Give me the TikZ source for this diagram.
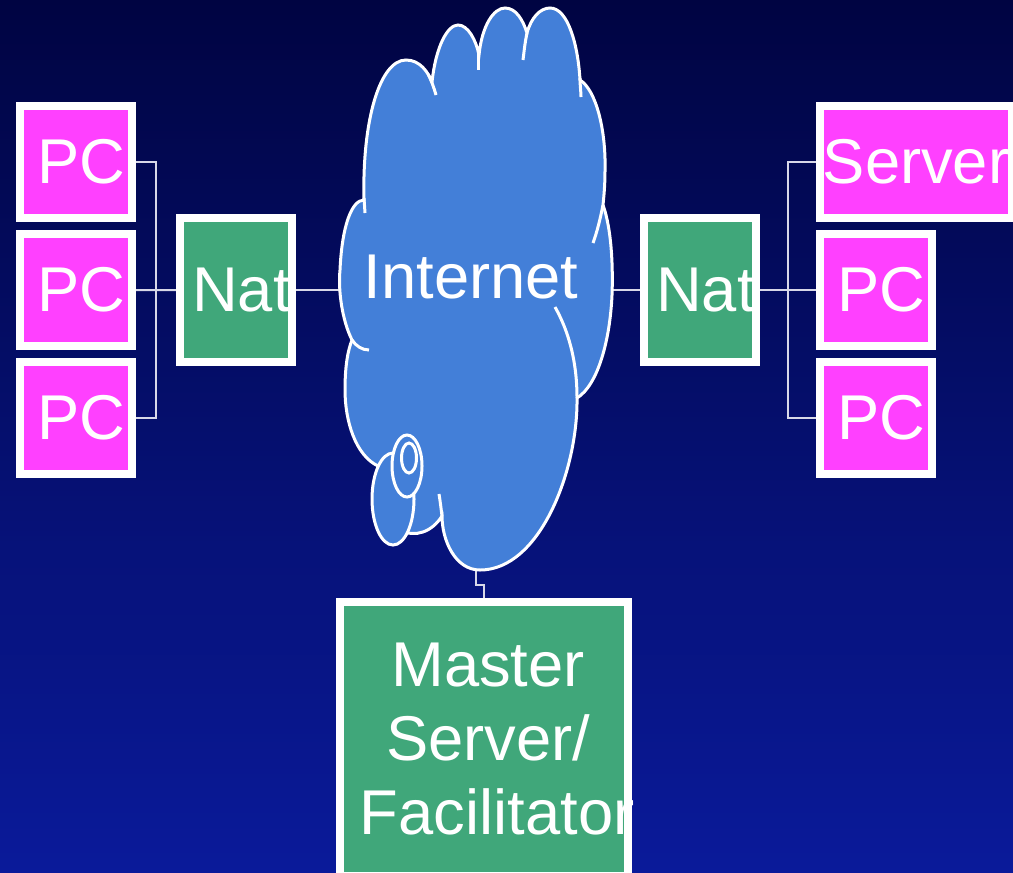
\documentclass[tikz,border=0pt]{standalone}
\usepackage{fontspec}
\setmainfont{Liberation Sans}
\usetikzlibrary{positioning}
\definecolor{pcpink}{HTML}{FF40FF}
\definecolor{natgreen}{HTML}{40A77A}
\definecolor{cloudblue}{HTML}{437FD8}
\definecolor{skytop}{HTML}{000442}
\definecolor{skybottom}{HTML}{0A1A9A}
\definecolor{wire}{HTML}{D8D8E8}

\begin{document}
\begin{tikzpicture}[x=0.01cm, y=-0.01cm,
        box/.style={draw=white, line width=0.08cm, text=white, inner sep=0pt,
            font=\fontsize{18}{21}\selectfont},
        nudge/.style={execute at begin node={\hspace*{0.11cm}}},
        pcbox/.style={box, nudge, fill=pcpink, minimum width=1.12cm, minimum height=1.12cm},
        srvbox/.style={box, fill=pcpink, minimum width=1.92cm, minimum height=1.12cm},
        natbox/.style={box, nudge, fill=natgreen, minimum width=1.12cm, minimum height=1.44cm},
        link/.style={draw=wire, line width=0.02cm},
        puff/.style={draw=white, line width=0.03cm, fill=cloudblue}
    ]
        \path[use as bounding box] (0,0) rectangle (1013,872);
        \clip (0,0) rectangle (1013,872);
        \shade[top color=skytop, bottom color=skybottom] (0,0) rectangle (1013,872);

        % left side
        \node[pcbox] (L1) at (76,162) {PC};
        \foreach \curr/\prev in {2/1, 3/2} {
            \node[pcbox, below=0.08cm of L\prev] (L\curr) {PC};
        }
        \node[natbox] (natL) at (236,290) {Nat};

        % right side
        \node[natbox] (natR) at (700,290) {Nat};
        \node[srvbox] (srv) at (916,162) {Server};
        \node[pcbox] (R2) at (876,290) {PC};
        \node[pcbox, below=0.08cm of R2] (R3) {PC};

        % master
        \node[box, fill=natgreen, text width=2.88cm, minimum height=2.74cm,
            align=center] (master) at (484,739)
            {\hspace*{0.08cm}Master\\\hspace*{0.08cm}Server/\\\hspace*{0.2cm}\mbox{Facilitator}};

        \coordinate (busL) at (156,290);
        \coordinate (busR) at (788,290);
        \coordinate (cloudW) at (341,290);
        \coordinate (cloudE) at (611,290);
        \coordinate (cloudS) at (476,568);

        \draw[link] (L1.east) -| (busL) |- (L3.east);
        \draw[link] (L2.east) -- (natL.west);
        \draw[link] (natL.east) -- (cloudW);
        \draw[link] (cloudE) -- (natR.west);
        \draw[link] (natR.east) -- (R2.west);
        \draw[link] (srv.west) -| (busR) |- (R3.west);
        \draw[link] (cloudS) -- ++(0,17) -| (master.north);

        % cloud
        \draw[puff] (364,200)
            .. controls (362,120) and (380,60) .. (406,60)
            .. controls (420,60) and (428,72) .. (432,82)
            .. controls (436,45) and (448,25) .. (458,25)
            .. controls (468,25) and (476,40) .. (479,55)
            .. controls (482,25) and (494,8) .. (505,8)
            .. controls (516,8) and (523,20) .. (527,33)
            .. controls (531,18) and (540,8) .. (550,8)
            .. controls (568,8) and (578,45) .. (580,80)
            .. controls (596,90) and (606,130) .. (605,170)
            .. controls (605,185) and (604,195) .. (603,205)
            .. controls (612,230) and (613,270) .. (612,295)
            .. controls (610,340) and (598,385) .. (577,398)
            .. controls (578,470) and (540,570) .. (480,570)
            .. controls (455,570) and (442,540) .. (442,516)
            .. controls (432,532) and (415,538) .. (400,530)
            -- (378,466)
            .. controls (355,455) and (345,420) .. (345,390)
            .. controls (345,365) and (348,350) .. (352,340)
            .. controls (342,320) and (338,290) .. (340,270)
            .. controls (342,225) and (352,200) .. (364,200) -- cycle;
        \draw[puff, fill=none] (428,74) .. controls (432,82) and (434,88) .. (436,95);
        \draw[puff, fill=none] (478,50) .. controls (478,58) and (478,64) .. (478,70);
        \draw[puff, fill=none] (527,33) .. controls (525,42) and (524,52) .. (523,60);
        \draw[puff, fill=none] (580,78) .. controls (580,86) and (581,92) .. (581,97);
        \draw[puff, fill=none] (603,205) .. controls (600,220) and (597,232) .. (593,243);
        \draw[puff, fill=none] (364,198) -- (365,213);
        \draw[puff, fill=none] (352,340) .. controls (356,346) and (362,350) .. (369,350);
        \draw[puff, fill=none] (555,307) .. controls (568,330) and (577,360) .. (577,398);
        \draw[puff, fill=none] (442,516) .. controls (441,508) and (440,500) .. (439,494);
        \draw[puff] (393,499) ellipse [x radius=21, y radius=46];
        \draw[puff] (407,466) ellipse [x radius=15, y radius=31];
        \draw[puff] (409,458) ellipse [x radius=7.5, y radius=15];

        \node[text=white, inner sep=0pt, font=\fontsize{18}{21}\selectfont]
            (inet) at (471,277) {Internet};
    \end{tikzpicture}
\end{document}
